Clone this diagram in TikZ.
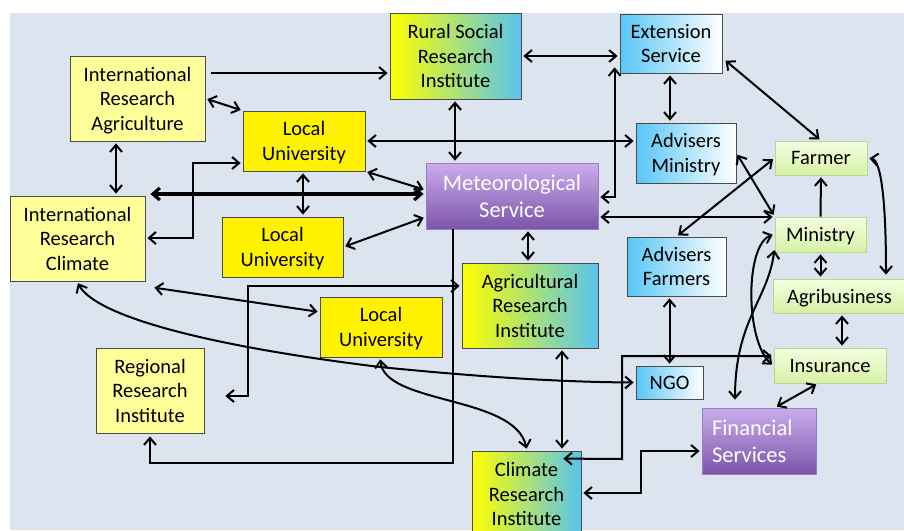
\documentclass[tikz,border=0pt]{standalone}
\usepackage{fontspec}
\setmainfont{Carlito}
\usetikzlibrary{arrows.meta,calc}
\definecolor{bg}{HTML}{DCE4F0}
\definecolor{edge}{HTML}{4A4A4A}
\definecolor{lightyel}{HTML}{FFFF99}
\definecolor{ybblue}{HTML}{58C4EE}
\definecolor{bwblue}{HTML}{58C6F6}
\definecolor{purline}{HTML}{9B7BC4}
\definecolor{purtop}{HTML}{CBADEE}
\definecolor{purbot}{HTML}{7B55A8}
\definecolor{grnline}{HTML}{B5D98C}
\definecolor{grntop}{HTML}{F4FFE0}
\definecolor{grnbot}{HTML}{D6F2A6}
\tikzset{
 boxbase/.style={line width=0.8pt, align=center, inner sep=0pt, text depth=0pt, font=\fontsize{20.5}{24.5}\selectfont},
 lyel/.style={boxbase, draw=edge, fill=lightyel},
 yel/.style={boxbase, draw=edge, fill=yellow},
 yb/.style={boxbase, draw=edge, left color=yellow, right color=ybblue},
 bw/.style={boxbase, draw=edge, left color=bwblue, right color=white},
 pur/.style={boxbase, draw=purline, top color=purtop, bottom color=purbot, text=white, font=\fontsize{22.5}{27}\selectfont},
 grn/.style={boxbase, draw=grnline, top color=grntop, bottom color=grnbot},
 conn/.style={line width=2pt, <->, shorten <=2pt, shorten >=2pt},
 one/.style={line width=2pt, ->, shorten >=2pt},
}
\begin{document}
\begin{tikzpicture}[x=1pt,y=-1pt, >={Straight Barb[length=7pt,width=12pt]}]
\useasboundingbox (0,0) rectangle (904,530);
\fill[bg] (10,13) rectangle (904,530);

% nodes
\node[lyel, minimum width=135pt, minimum height=85pt] (ira) at (137.5,98.5) {International\\Research\\Agriculture};
\node[yel, minimum width=122pt, minimum height=60pt] (lu1) at (304,141) {Local\\University};
\node[lyel, minimum width=135pt, minimum height=85pt] (irc) at (77.5,238.5) {International\\Research\\Climate};
\node[yel, minimum width=121pt, minimum height=60pt] (lu2) at (282.5,247) {Local\\University};
\node[yb, minimum width=131pt, minimum height=86pt] (rsri) at (455.5,56) {Rural Social\\Research\\Institute};
\node[bw, minimum width=102pt, minimum height=59pt] (ext) at (671,43.5) {Extension\\Service};
\node[bw, minimum width=100pt, minimum height=60pt] (adm) at (686,153) {Advisers\\Ministry};
\node[pur, minimum width=172pt, minimum height=66pt] (met) at (512,196) {Meteorological\\Service};
\node[grn, minimum width=92pt, minimum height=34pt] (farmer) at (821,158) {Farmer};
\node[grn, minimum width=91pt, minimum height=35pt] (ministry) at (820.5,234.5) {Ministry};
\node[grn, minimum width=133pt, minimum height=34pt] (agri) at (839.5,296) {Agribusiness};
\node[grn, minimum width=112pt, minimum height=35pt] (ins) at (830,365.5) {Insurance};
\node[bw, minimum width=99pt, minimum height=59pt] (adf) at (676.5,266.5) {Advisers\\Farmers};
\node[bw, minimum width=67pt, minimum height=33pt] (ngo) at (669.5,382.5) {NGO};
\node[pur, minimum width=114pt, minimum height=66pt, text width=94pt, align=left, text depth={}] (fin) at (759,441) {Financial\\Services};
\node[yb, minimum width=109pt, minimum height=86pt] (cri) at (526.5,494) {Climate\\Research\\Institute};
\node[yb, minimum width=136pt, minimum height=85pt] (ari) at (530,305.5) {Agricultural\\Research\\Institute};
\node[yel, minimum width=122pt, minimum height=60pt] (lu3) at (381,327) {Local\\University};
\node[lyel, minimum width=108pt, minimum height=85pt] (rri) at (150,390.5) {Regional\\Research\\Institute};

% connectors
\draw[one, shorten <=6pt] (ira.east |- 0,73) -- (rsri.west |- 0,73);
\draw[conn] (ira.east) -- (lu1.north west);
\draw[conn] (ira.south -| 116,0) -- (irc.north -| 116,0);
\draw[conn, line width=3.2pt, shorten <=5pt] (irc.east |- 0,194) -- (met.west |- 0,194);
\draw[conn] (lu1.west |- 0,163) -| (193,238) -- (irc.east |- 0,238);
\draw[conn] (lu1.south -| 303,0) -- (lu2.north -| 303,0);
\draw[conn] (lu1.south east) -- (met.west |- 0,190);
\draw[conn] (lu2.east) -- (met.west |- 0,217);
\draw[conn] (lu1.east) -- (adm.west |- 0,141);
\draw[conn] (rsri.south -| 455,0) -- (met.north -| 455,0);
\draw[conn] (rsri.east |- 0,56) -- (ext.west |- 0,56);
\draw[conn, shorten >=0pt] (met.east |- 0,197) -| ([xshift=-5pt,yshift=6pt]ext.south west);
\draw[conn] (ext.south -| 670,0) -- (adm.north -| 670,0);
\draw[conn, shorten <=4pt] (ext.east |- 0,58) -- (farmer.north);
\draw[conn] (adm.east) -- (ministry.north west);
\draw[conn] (farmer.west) -- (adf.north);
\draw[conn] (met.east |- 0,217) -- (ministry.west |- 0,217);
\draw[one] (ministry.north) -- (farmer.south);
\draw[conn, shorten >=4pt] (farmer.east) .. controls (881,160) and (886,200) .. (agri.north -| 886,0);
\draw[conn] (ministry.south) -- (agri.north -| ministry.south);
\draw[conn] (agri.south -| 842,0) -- (ins.north -| 842,0);
\draw[conn] (ins.south -| 818,0) -- (fin.north -| 775,0);
\draw[conn] (ministry.west |- 0,234) .. controls (745,245) and (745,340) .. (ins.west |- 0,366);
\draw[conn, shorten >=8pt] (ministry.west |- 0,248) .. controls (768,300) and (735,320) .. (fin.north -| 735,0);
\draw[conn, shorten <=0pt] ([xshift=-18pt,yshift=-8pt]cri.north east) -- (622,459) |- (ins.west |- 0,356);
\draw[conn] (cri.east |- 0,493) -- (641,493) |- (fin.west |- 0,451);
\draw[conn] (ari.south -| 562,0) -- (cri.north -| 562,0);
\draw[conn] (adf.south -| ngo.north) -- (ngo.north);
\draw[conn] (met.south -| 528,0) -- (ari.north -| 528,0);
\draw[one, shorten >=3pt] (met.south -| 453,0) -- (453,463) -| (rri.south);
\draw[conn, shorten >=21pt] (ari.west |- 0,286) -| (248,396) -- (rri.east |- 0,396);
\draw[conn] ([xshift=7pt,yshift=-6pt]irc.south east) -- (lu3.west |- 0,312);
\draw[conn] (irc.south -| 77,0) .. controls (95,315) and (200,345) .. (380,367) .. controls (480,377) and (560,382) .. (ngo.west);
\draw[conn] (lu3.south -| 380,0) .. controls (385,405) and (515,395) .. (cri.north -| 527,0);
\end{tikzpicture}
\end{document}
